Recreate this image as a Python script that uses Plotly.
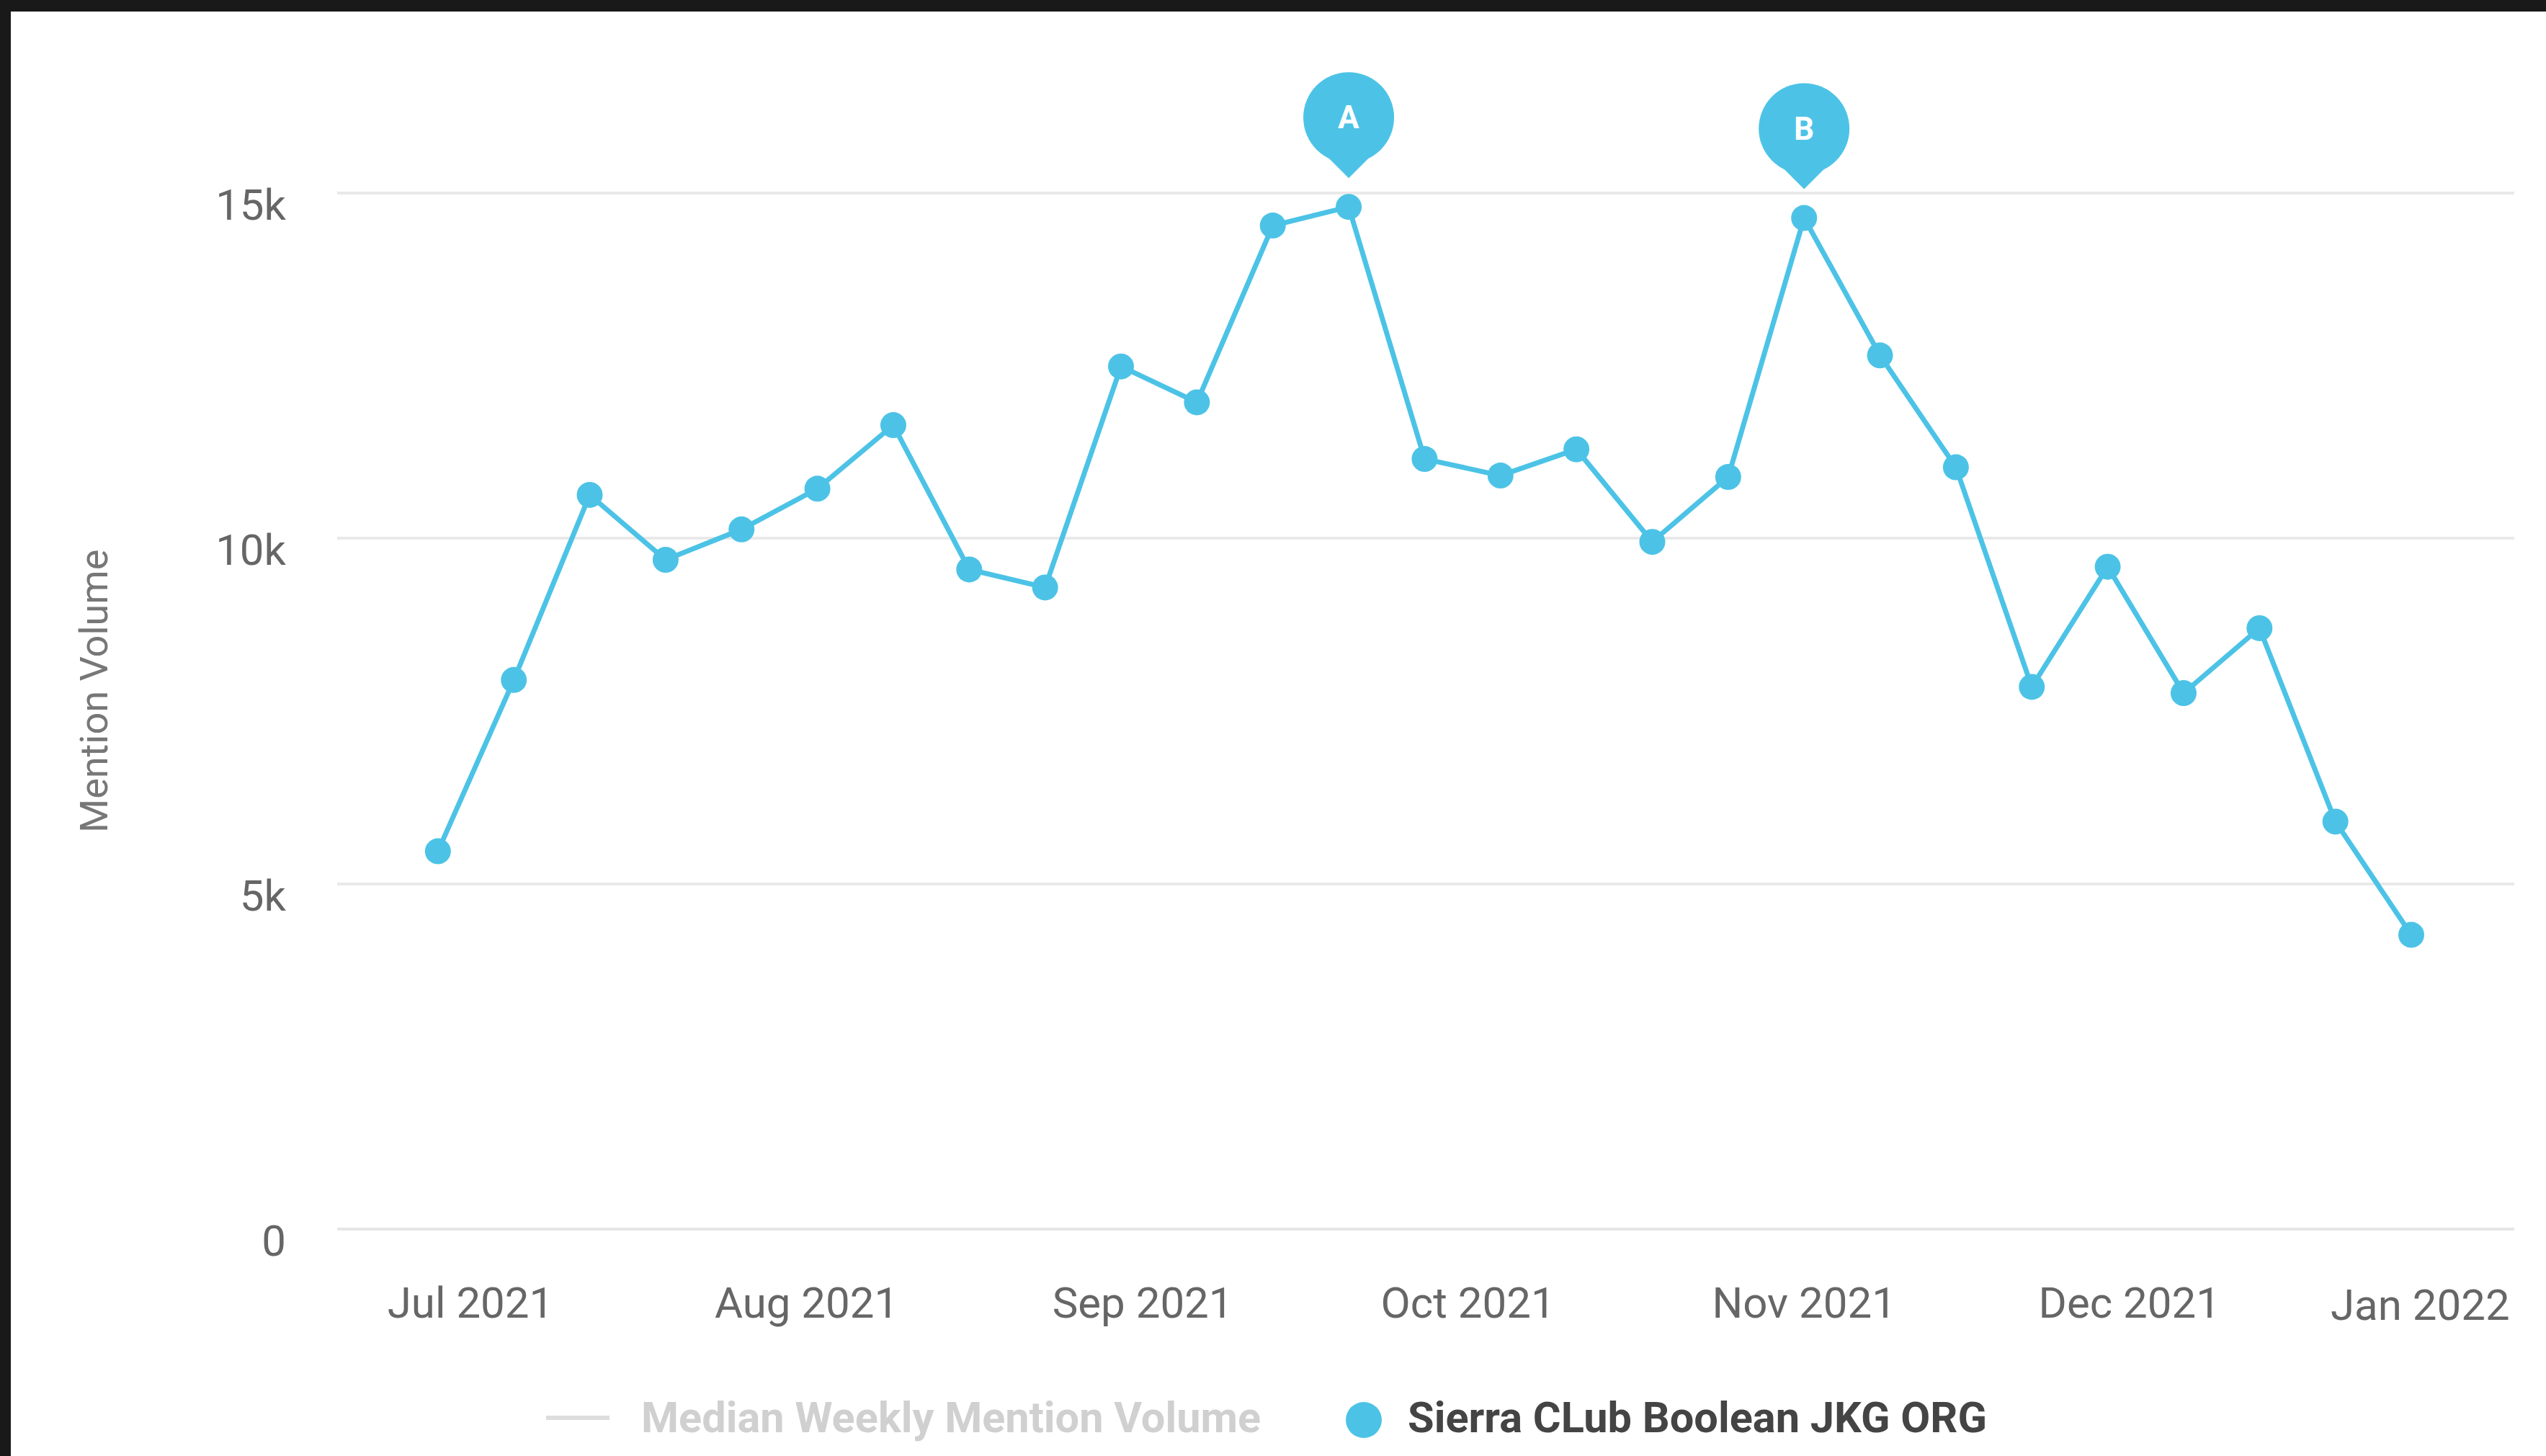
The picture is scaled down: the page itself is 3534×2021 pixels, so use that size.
import pandas as pd
import plotly.graph_objects as go

# Weekly mention volume (week starting Monday)
week_starts = pd.date_range("2021-06-28", periods=27, freq="7D")
mentions = [5470, 7950, 10630, 9690, 10130, 10720, 11640, 9550, 9290,
            12490, 11970, 14530, 14800, 11150, 10910, 11290, 9950, 10890,
            14640, 12650, 11030, 7850, 9590, 7760, 8700, 5900, 4260]

month_ticks = ["2021-07-01", "2021-08-01", "2021-09-01", "2021-10-01",
               "2021-11-01", "2021-12-01"]
month_labels = ["Jul 2021", "Aug 2021", "Sep 2021", "Oct 2021",
                "Nov 2021", "Dec 2021"]
last_month_label = "Jan 2022"

y_ticks = [0, 5000, 10000, 15000]
y_tick_labels = ["0", "5k", "10k", "15k"]

event_letters = ["A", "B"]
event_weeks = [12, 18]

series_name = "Sierra CLub Boolean JKG ORG"
median_name = "Median Weekly Mention Volume"
y_title = "Mention Volume"

# ---- styling -------------------------------------------------------------
W, H = 3534, 2021
L, R, T, B = 468, 44, 40, 315
PW, PH = W - L - R, H - T - B
BLUE = "#4cc3e6"
FONT = "Roboto"


def px(x):
    """figure pixel x -> paper coordinate"""
    return (x - L) / PW


def py(y):
    """figure pixel y (from top) -> paper coordinate"""
    return (H - B - y) / PH


fig = go.Figure()

fig.add_trace(go.Scatter(
    x=week_starts, y=mentions, mode="lines",
    line=dict(color=BLUE, width=7), showlegend=False, hoverinfo="skip"))
fig.add_trace(go.Scatter(
    x=week_starts, y=mentions, mode="markers", name=series_name,
    marker=dict(color=BLUE, size=36), showlegend=False))

shapes = []
annotations = []

# event pins above the peaks
for letter, i in zip(event_letters, event_weeks):
    common = dict(xref="x", yref="y", xsizemode="pixel", ysizemode="pixel",
                  xanchor=week_starts[i], yanchor=mentions[i],
                  fillcolor=BLUE, line=dict(width=0), layer="above")
    shapes.append(dict(type="circle", x0=-63, x1=63, y0=61, y1=187, **common))
    shapes.append(dict(type="path", path="M -30,70 L 30,70 L 0,40 Z", **common))
    annotations.append(dict(
        x=week_starts[i], y=mentions[i], xref="x", yref="y", yshift=124,
        text=f"<b>{letter}</b>", showarrow=False,
        font=dict(family=FONT, size=44, color="white")))

# last month label, justified to the right edge of the plot
annotations.append(dict(
    x=px(3486), y=py(1811), xref="paper", yref="paper",
    xanchor="right", yanchor="middle", text=last_month_label,
    showarrow=False, font=dict(family=FONT, size=60, color="#666666")))

# y axis title
annotations.append(dict(
    x=px(130), y=py(960), xref="paper", yref="paper",
    xanchor="center", yanchor="middle", textangle=-90, text=y_title,
    showarrow=False, font=dict(family=FONT, size=54, color="#777777")))

# legend
shapes.append(dict(type="line", xref="paper", yref="paper",
                   x0=px(758), x1=px(846), y0=py(1968), y1=py(1968),
                   line=dict(color="#dddddd", width=6)))
annotations.append(dict(
    x=px(888), y=py(1968), xref="paper", yref="paper", xanchor="left",
    yanchor="middle", text=f"<b>{median_name}</b>", showarrow=False,
    font=dict(family=FONT, size=59.5, color="#d0d0d0")))
shapes.append(dict(type="circle", xref="paper", yref="paper",
                   x0=px(1868), x1=px(1918), y0=py(1946), y1=py(1996),
                   fillcolor=BLUE, line=dict(width=0)))
annotations.append(dict(
    x=px(1952), y=py(1968), xref="paper", yref="paper", xanchor="left",
    yanchor="middle", text=f"<b>{series_name}</b>", showarrow=False,
    font=dict(family=FONT, size=59.5, color="#444444")))

# dark frame along the top and left edges
shapes.append(dict(type="rect", xref="paper", yref="paper", layer="above",
                   x0=px(-20), x1=px(W + 20), y0=py(16), y1=py(-20),
                   fillcolor="#191919", line=dict(width=0)))
shapes.append(dict(type="rect", xref="paper", yref="paper", layer="above",
                   x0=px(-20), x1=px(15), y0=py(H + 20), y1=py(-20),
                   fillcolor="#191919", line=dict(width=0)))

y_top = (H - B - T) / ((H - B - 268) / 15000.0)

fig.update_layout(
    width=W, height=H,
    margin=dict(l=L, r=R, t=T, b=B, pad=0),
    paper_bgcolor="white", plot_bgcolor="white",
    font=dict(family=FONT, size=60, color="#666666"),
    showlegend=False,
    shapes=shapes, annotations=annotations,
    xaxis=dict(
        type="date", range=["2021-06-18T17:00", "2022-01-05T12:00"],
        tickvals=month_ticks, ticktext=month_labels, ticks="",
        showgrid=False, showline=False, zeroline=False,
        tickfont=dict(family=FONT, size=60, color="#666666"),
        ticklabelstandoff=62),
    yaxis=dict(
        range=[0, y_top], tickvals=y_ticks, ticktext=y_tick_labels,
        ticks="", showline=False,
        showgrid=True, gridcolor="#e9e9e9", gridwidth=4,
        zeroline=True, zerolinecolor="#e6e6e6", zerolinewidth=4,
        tickfont=dict(family=FONT, size=60, color="#666666"),
        ticklabelstandoff=70, ticklabelshift=16),
)

fig.write_html("out.html")
